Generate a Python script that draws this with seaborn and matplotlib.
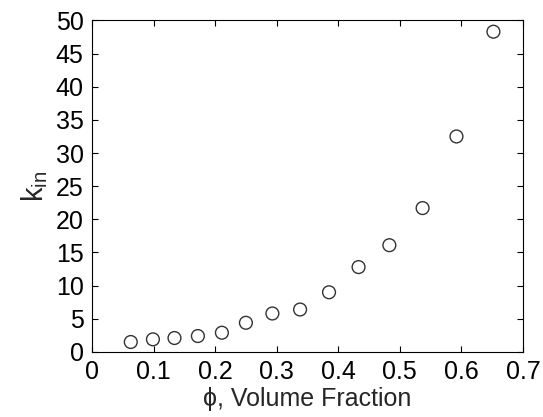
import pandas as pd
import matplotlib.pyplot as plt
import seaborn as sns

sns.set_theme(style="white")
plt.rcParams['font.family'] = ['Liberation Sans', 'DejaVu Sans']
plt.rcParams['mathtext.fontset'] = 'custom'
plt.rcParams['mathtext.rm'] = 'Liberation Sans'

# volume fraction and k_in
phi = [0.063, 0.099, 0.134, 0.172, 0.211, 0.250, 0.293, 0.338, 0.385, 0.433, 0.483, 0.537, 0.592, 0.652]
k_in = [1.5, 1.9, 2.1, 2.4, 2.9, 4.4, 5.8, 6.4, 9.0, 12.8, 16.1, 21.7, 32.5, 48.3]
data = pd.DataFrame({'phi': phi, 'k_in': k_in})

fig = plt.figure(figsize=(5.43, 4.17), dpi=100)
ax = fig.add_axes([0.1694, 0.156, 0.7937, 0.795])
sns.scatterplot(x='phi', y='k_in', data=data, ax=ax, s=85,
                facecolor='none', edgecolor='#333333', linewidth=1.0)

ax.set_xlim(0, 0.7)
ax.set_ylim(0, 50)
ax.set_xticks([0, 0.1, 0.2, 0.3, 0.4, 0.5, 0.6, 0.7])
ax.set_xticklabels(['0', '0.1', '0.2', '0.3', '0.4', '0.5', '0.6', '0.7'])
ax.set_yticks(range(0, 51, 5))
ax.tick_params(direction='in', length=4, width=0.8, labelsize=18,
               top=True, right=True, bottom=True, left=True, colors='black')
ax.tick_params(axis='x', pad=6)
ax.tick_params(axis='y', pad=6)
for sp in ax.spines.values():
    sp.set_color('black')
    sp.set_linewidth(0.8)

ax.set_xlabel('ϕ, Volume Fraction', fontsize=18, labelpad=2)
ax.set_ylabel(r'k$_{\mathrm{in}}$', fontsize=21, labelpad=4)

fig.savefig('out.png', dpi=100)
